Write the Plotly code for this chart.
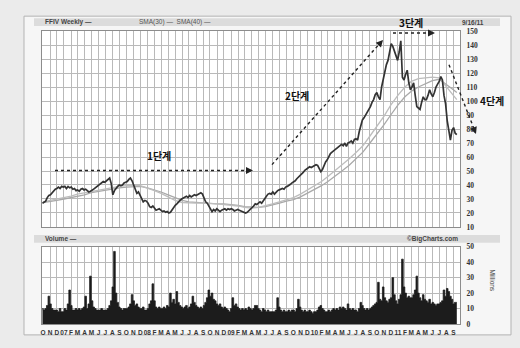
import plotly.graph_objects as go
import pandas as pd

# ---------------- data (weekly, Fridays from 2006-09-29 to 2011-09-16) ----------------
close_2006 = [27,
              27.5, 28.5, 31, 32.5,
              33, 34.5, 36, 37,
              37.5, 38.5, 37.5, 39, 38.5]
close_2007 = [39, 37.5, 39, 38,
              38.5, 37, 37.5, 36,
              36.5, 35.5, 37, 37.5, 36.5,
              37, 36, 35, 35.5,
              36, 37, 38, 39,
              40, 41, 41.5, 42.5, 42,
              43, 44.5, 45, 41,
              33, 36, 38, 39, 40,
              39.5, 40, 41.5, 42,
              42.5, 44, 45, 43,
              40, 36.5, 34, 35, 33,
              30, 28, 29, 28.5]
close_2008 = [27, 24.5, 24, 25,
              23.5, 22, 22.5, 23, 22,
              21, 21.5, 20.5, 21,
              20, 20.5, 22.5, 24,
              25.5, 26.5, 28, 29, 30,
              30.5, 31, 32, 31,
              32.5, 31.5, 32, 33,
              32.5, 33, 34, 34.5, 33.5,
              31, 28, 27, 25,
              23, 21, 22.5, 21.5, 23,
              22, 21, 22, 22.5,
              23, 22, 23, 22.5]
close_2009 = [23, 22.5, 21.5, 22, 22.5,
              22, 21.5, 21, 20.5,
              20, 20.5, 21.5, 23,
              24, 25, 26.5, 26,
              27, 28, 27, 29, 30.5,
              32, 33.5, 34, 33.5,
              35, 33.5, 35, 36, 36.5,
              37, 37.5, 37, 38.5,
              39, 39.5, 40.5, 41.5,
              42, 43, 44.5, 45.5, 46.5,
              47.5, 49, 50.5, 51.5,
              52, 53, 52.5, 53]
close_2010 = [53.5, 54.5, 54, 52, 49.5,
              51, 54, 56.5, 58,
              61, 62.5, 63.5, 64.5,
              65.5, 66, 67.5, 68.5, 69,
              68, 70, 67.5, 70,
              70.5, 71.5, 70, 72.5,
              73, 72, 78, 83, 86.5,
              88, 90, 91.5, 93,
              96, 99, 101, 104.5,
              106, 103, 101, 110, 116,
              122, 126, 129, 135,
              141, 139, 136, 132, 129]
close_2011 = [135, 143, 117, 115,
              119, 122, 113, 108,
              110, 113, 104, 96,
              95, 94, 99, 103, 101,
              101, 104, 108, 105,
              103, 106, 110, 112,
              114, 117.5, 115, 104, 98,
              86, 78, 72, 79,
              81, 77, 76]

vol_2006 = [10,
            9, 10, 12, 18,
            13, 10, 9, 9,
            9, 8, 10, 8, 8]
vol_2007 = [10, 9, 13, 22,
            12, 9, 9, 10,
            9, 10, 9, 10, 11,
            18, 10, 13, 31,
            15, 11, 10, 9,
            9, 9, 10, 9, 9,
            9, 10, 12, 15,
            24, 47, 20, 14, 11,
            10, 9, 10, 10,
            10, 11, 13, 19,
            15, 12, 13, 11, 10,
            10, 11, 9, 9]
vol_2008 = [10, 13, 15, 26,
            15, 11, 10, 11, 10,
            10, 11, 10, 12,
            11, 20, 14, 16,
            13, 21, 14, 12, 11,
            10, 11, 12, 10,
            11, 13, 18, 14,
            12, 11, 10, 11, 10,
            12, 14, 17, 22,
            18, 20, 16, 15, 13,
            12, 13, 11, 10,
            11, 10, 9, 8]
vol_2009 = [10, 17, 12, 13, 11,
            10, 9, 10, 9,
            10, 9, 11, 10,
            9, 10, 12, 12,
            10, 9, 8, 10, 9,
            8, 9, 8, 8,
            8, 8, 9, 17, 11,
            9, 8, 9, 8,
            8, 9, 8, 9,
            9, 8, 10, 16, 11,
            9, 8, 9, 8,
            8, 9, 8, 7]
vol_2010 = [8, 8, 9, 11, 12,
            10, 9, 8, 8,
            9, 8, 9, 10,
            9, 10, 9, 11, 10,
            11, 10, 9, 13,
            10, 9, 10, 9,
            9, 8, 10, 14, 12,
            10, 9, 10, 9,
            10, 11, 12, 13,
            14, 27, 16, 15, 24,
            17, 15, 14, 16,
            17, 30, 19, 15, 13]
vol_2011 = [16, 19, 42, 24,
            20, 17, 18, 17,
            17, 19, 22, 31,
            20, 17, 15, 19, 16,
            15, 14, 16, 13,
            14, 13, 12, 13,
            13, 14, 15, 22, 18,
            23, 21, 18, 16,
            13, 14, 14]

# moving averages read at month starts (Oct 2006 .. Sep 2011) plus last week
sma30 = [28, 29, 30, 31, 32, 33.5, 34.5, 35.5, 36.5, 37.5, 38.5, 39,
         39.5, 40, 39.5, 38, 36, 34, 31.5, 29, 27.5, 27, 27, 27,
         27, 26.5, 26, 25.5, 25, 24, 23.5, 24, 25, 26.5, 28, 29.5,
         31, 33.5, 36.5, 39.5, 42.5, 46, 50, 54, 58.5, 63, 68, 75,
         82, 89, 97, 104, 110, 114, 116, 116.5, 117, 116.5, 110, 104, 101]
sma40 = [27.5, 28, 29, 30, 31, 32, 33, 34.5, 35.5, 36.5, 37.5, 38,
         38.5, 39, 39, 38, 36.5, 35, 33, 31, 29, 28, 27.5, 27,
         27, 26.5, 26.5, 26, 25.5, 24.5, 24, 24, 24.5, 25.5, 27, 28.5,
         29.5, 31.5, 34, 36.5, 39.5, 42.5, 46, 50, 54, 58.5, 63.5, 70,
         76, 83, 90, 97, 103, 107, 110, 112.5, 114.5, 115.5, 112, 108, 106]

price_ticks = list(range(10, 151, 10))
vol_ticks = [0, 10, 20, 30, 40, 50]

close = close_2006 + close_2007 + close_2008 + close_2009 + close_2010 + close_2011
volume = vol_2006 + vol_2007 + vol_2008 + vol_2009 + vol_2010 + vol_2011
dates = pd.date_range("2006-09-29", periods=len(close), freq="W-FRI")
vdates = pd.date_range("2006-09-29", periods=len(volume), freq="W-FRI")
month_starts = pd.date_range("2006-10-01", "2011-09-01", freq="MS")
sma_dates = list(month_starts) + [pd.Timestamp("2011-09-16")]
month_letters = ["J", "F", "M", "A", "M", "J", "J", "A", "S", "O", "N", "D"]
month_text = [(f"{d.year % 100:02d}" if d.month == 1 else month_letters[d.month - 1])
              for d in month_starts]

# ---------------- layout helpers (pixel -> paper) ----------------
L, R, T, B = 42, 460, 31, 327
W, H = 520, 348


def px(x):
    return (x - L) / (R - L)


def py(y):
    return (B - y) / (B - T)


fig = go.Figure()

fig.add_trace(go.Scatter(x=sma_dates, y=sma40, mode="lines", xaxis="x2", yaxis="y",
                         line=dict(color="#a9a9a9", width=1.3), hoverinfo="skip"))
fig.add_trace(go.Scatter(x=sma_dates, y=sma30, mode="lines", xaxis="x2", yaxis="y",
                         line=dict(color="#bdbdbd", width=1.3), hoverinfo="skip"))
fig.add_trace(go.Scatter(x=dates, y=close, mode="lines", xaxis="x2", yaxis="y",
                         line=dict(color="#333333", width=1.7)))
fig.add_trace(go.Scatter(x=vdates, y=volume, mode="lines", xaxis="x", yaxis="y2",
                         line=dict(color="#1c1c1c", width=0.8, shape="hvh"),
                         fill="tozeroy", fillcolor="#1c1c1c"))

xrange = ["2006-09-27", "2011-09-30"]
grid = "#b9b9b9"
frame = "#8c8c8c"
tickfont_x = dict(family="Liberation Sans", size=6.5, color="#333", weight="bold")
tickfont_y = dict(family="Liberation Serif", size=7.5, color="#333", weight="bold")

fig.update_layout(
    width=W, height=H,
    margin=dict(l=L, r=W - R, t=T, b=H - B),
    paper_bgcolor="#ebebeb",
    plot_bgcolor="rgba(0,0,0,0)",
    showlegend=False,
    xaxis=dict(domain=[0, 1], anchor="y2", range=xrange, tickvals=month_starts,
               ticktext=month_text, tickangle=0, tickfont=tickfont_x,
               ticks="outside", ticklen=2, tickcolor="rgba(0,0,0,0)",
               showgrid=True, gridcolor=grid, gridwidth=1,
               showline=True, linecolor=frame, mirror=True, zeroline=False),
    xaxis2=dict(domain=[0, 1], anchor="y", matches="x", range=xrange, tickvals=month_starts,
                showticklabels=False, showgrid=True, gridcolor=grid, gridwidth=1,
                showline=True, linecolor=frame, mirror=True, zeroline=False),
    yaxis=dict(domain=[py(229), 1], range=[10, 150], side="right", tickvals=price_ticks,
               tickfont=tickfont_y, ticks="outside", ticklen=4, tickcolor="rgba(0,0,0,0)",
               showgrid=True, gridcolor=grid, gridwidth=1,
               showline=True, linecolor=frame, mirror=True, zeroline=False),
    yaxis2=dict(domain=[0, py(249)], range=[0, 50], side="right", tickvals=vol_ticks,
                tickfont=tickfont_y, ticks="outside", ticklen=4, tickcolor="rgba(0,0,0,0)",
                showgrid=True, gridcolor=grid, gridwidth=1,
                showline=True, linecolor=frame, mirror=True, zeroline=False),
)

shapes = []


def rect(x0, y0, x1, y1, fill, line=None):
    shapes.append(dict(type="rect", xref="paper", yref="paper", layer="below",
                       x0=px(x0), x1=px(x1), y0=py(y1), y1=py(y0),
                       fillcolor=fill,
                       line=dict(color=line or "rgba(0,0,0,0)", width=1)))


rect(24, 16, 511, 338, "#f6f6f6", "#b3b3b3")
rect(34, 18, 500, 26, "#dcdcdc")
rect(34, 237, 500, 245, "#dcdcdc")
rect(L, 31, R, 229, "#ffffff")
rect(L, 249, R, 327, "#ffffff")

annotations = []


def text(x, y, s, size, anchor="center", font="Liberation Sans", color="#333",
         weight="normal", angle=0):
    annotations.append(dict(xref="paper", yref="paper", x=px(x), y=py(y), text=s,
                            showarrow=False, xanchor=anchor, yanchor="middle",
                            textangle=angle,
                            font=dict(family=font, size=size, color=color, weight=weight)))


def dashed_arrow(x0, y0, x1, y1):
    dx, dy = x1 - x0, y1 - y0
    ln = (dx * dx + dy * dy) ** 0.5
    ux, uy = dx / ln, dy / ln
    shapes.append(dict(type="line", xref="paper", yref="paper", layer="above",
                       x0=px(x0), y0=py(y0), x1=px(x1 - ux * 4), y1=py(y1 - uy * 4),
                       line=dict(color="#222", width=1.4, dash="dot")))
    annotations.append(dict(xref="paper", yref="paper", x=px(x1), y=py(y1), text="",
                            showarrow=True, arrowhead=2, arrowsize=1, arrowwidth=1.4,
                            arrowcolor="#222", ax=-ux * 7, ay=-uy * 7, standoff=0))


kfont = "Noto Sans CJK KR"
text(43, 22, "FFIV Weekly —", 6.5, anchor="left", weight="bold", color="#444")
text(137, 22, "SMA(30) —  SMA(40) —", 6.5, anchor="left", color="#555")
text(473, 22, "9/16/11", 6.5, weight="bold", color="#444")
text(43, 241, "Volume —", 6.5, anchor="left", weight="bold", color="#444")
text(460, 241, "©BigCharts.com", 6.5, anchor="right", weight="bold", color="#444")
text(493, 283, "Millions", 6.5, angle=90, color="#444")

text(159, 157, "1단계", 10, font=kfont, color="#111", weight="bold")
text(297, 96, "2단계", 10, font=kfont, color="#111", weight="bold")
text(411, 22, "3단계", 10, font=kfont, color="#111", weight="bold")
text(492, 101, "4단계", 10, font=kfont, color="#111", weight="bold")

dashed_arrow(55, 172, 253, 172)
dashed_arrow(272, 166, 383, 40)
dashed_arrow(393, 33, 435, 33)
dashed_arrow(449, 65, 476, 135)

fig.update_layout(shapes=shapes, annotations=annotations)
fig.write_html("out.html")
